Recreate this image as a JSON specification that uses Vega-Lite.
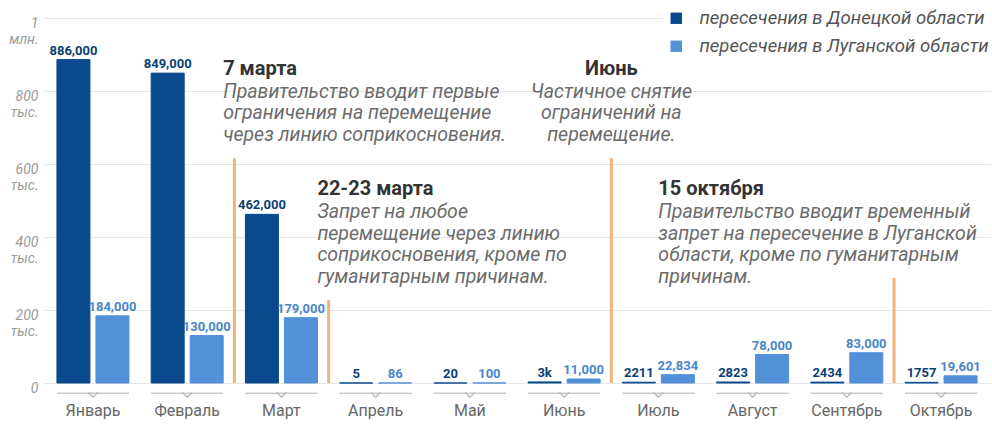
{
  "$schema": "https://vega.github.io/schema/vega-lite/v6.json",
  "width": 948,
  "height": 365,
  "autosize": {"type": "none"},
  "padding": {"left": 43, "top": 18, "right": 1, "bottom": 44},
  "background": "white",
  "config": {"view": {"stroke": null}, "font": "Roboto"},
  "datasets": {
    "crossings": [
      {"month": "Январь", "region": "пересечения в Донецкой области", "value": 886000, "label": "886,000"},
      {"month": "Февраль", "region": "пересечения в Донецкой области", "value": 849000, "label": "849,000"},
      {"month": "Март", "region": "пересечения в Донецкой области", "value": 462000, "label": "462,000"},
      {"month": "Апрель", "region": "пересечения в Донецкой области", "value": 5, "label": "5"},
      {"month": "Май", "region": "пересечения в Донецкой области", "value": 20, "label": "20"},
      {"month": "Июнь", "region": "пересечения в Донецкой области", "value": 3000, "label": "3k"},
      {"month": "Июль", "region": "пересечения в Донецкой области", "value": 2211, "label": "2211"},
      {"month": "Август", "region": "пересечения в Донецкой области", "value": 2823, "label": "2823"},
      {"month": "Сентябрь", "region": "пересечения в Донецкой области", "value": 2434, "label": "2434"},
      {"month": "Октябрь", "region": "пересечения в Донецкой области", "value": 1757, "label": "1757"},
      {"month": "Январь", "region": "пересечения в Луганской области", "value": 184000, "label": "184,000"},
      {"month": "Февраль", "region": "пересечения в Луганской области", "value": 130000, "label": "130,000"},
      {"month": "Март", "region": "пересечения в Луганской области", "value": 179000, "label": "179,000"},
      {"month": "Апрель", "region": "пересечения в Луганской области", "value": 86, "label": "86"},
      {"month": "Май", "region": "пересечения в Луганской области", "value": 100, "label": "100"},
      {"month": "Июнь", "region": "пересечения в Луганской области", "value": 11000, "label": "11,000"},
      {"month": "Июль", "region": "пересечения в Луганской области", "value": 22834, "label": "22,834"},
      {"month": "Август", "region": "пересечения в Луганской области", "value": 78000, "label": "78,000"},
      {"month": "Сентябрь", "region": "пересечения в Луганской области", "value": 83000, "label": "83,000"},
      {"month": "Октябрь", "region": "пересечения в Луганской области", "value": 19601, "label": "19,601"}
    ],
    "notes": [
      {"id": 1, "month": "Февраль", "ruleMonth": "Март", "ruleTop": 616000, "title": "7 марта", "body": ["Правительство вводит первые", "ограничения на перемещение", "через линию соприкосновения."]},
      {"id": 2, "month": "Март", "ruleMonth": "Апрель", "ruleTop": 227000, "title": "22-23 марта", "body": ["Запрет на любое", "перемещение через линию", "соприкосновения, кроме по", "гуманитарным причинам."]},
      {"id": 3, "month": "Июль", "ruleMonth": "Июль", "ruleTop": 616000, "title": "Июнь", "body": ["Частичное снятие", "ограничений на", "перемещение."]},
      {"id": 4, "month": "Июль", "ruleMonth": "Октябрь", "ruleTop": 288000, "title": "15 октября", "body": ["Правительство вводит временный", "запрет на пересечение в Луганской", "области, кроме по гуманитарным", "причинам."]}
    ]
  },
  "layer": [
    {
      "data": {"name": "crossings"},
      "mark": {"type": "bar", "strokeWidth": 1},
      "encoding": {
        "x": {
          "field": "month", "type": "nominal",
          "scale": {"domain": ["Январь", "Февраль", "Март", "Апрель", "Май", "Июнь", "Июль", "Август", "Сентябрь", "Октябрь"], "paddingInner": 0.236, "paddingOuter": 0.148},
          "axis": {"title": null, "domain": false, "ticks": false, "labelPadding": 19, "labelFontSize": 16, "labelColor": "#666666", "labelFont": "Roboto", "labelAngle": 0}
        },
        "xOffset": {
          "field": "region", "type": "nominal",
          "scale": {"domain": ["пересечения в Донецкой области", "пересечения в Луганской области"], "paddingInner": 0.154, "paddingOuter": 0}
        },
        "y": {
          "field": "value", "type": "quantitative",
          "scale": {"domain": [0, 1000000], "nice": false},
          "axis": {
            "title": null, "domain": false, "ticks": false, "grid": true, "gridColor": "#e6e6e6",
            "values": [0, 200000, 400000, 600000, 800000, 1000000],
            "labelExpr": "datum.value == 0 ? ['0', ''] : datum.value == 1000000 ? ['1', 'млн.'] : [format(datum.value / 1000, 'd'), 'тыс.']",
            "labelFontSize": 14, "labelFontStyle": "italic", "labelColor": "#9a9a9a", "labelPadding": 5,
            "labelBaseline": "middle", "labelLineHeight": 16.5, "labelOffset": 5, "labelFont": "Roboto"
          }
        },
        "color": {
          "field": "region", "type": "nominal",
          "scale": {"domain": ["пересечения в Донецкой области", "пересечения в Луганской области"], "range": ["#0a4a8c", "#5290d8"]},
          "legend": {
            "title": null, "orient": "none", "legendX": 620, "legendY": -13, "direction": "vertical",
            "symbolType": "square", "symbolSize": 130, "symbolStrokeWidth": 0,
            "labelFontSize": 18.5, "labelFont": "Roboto", "labelFontStyle": "italic", "labelColor": "#555555",
            "labelOffset": 14, "rowPadding": 9, "fillColor": "white", "padding": 4, "labelLimit": 400
          }
        },
        "stroke": {
          "field": "region", "type": "nominal",
          "scale": {"domain": ["пересечения в Донецкой области", "пересечения в Луганской области"], "range": ["#0a4a8c", "#5290d8"]},
          "legend": null
        }
      }
    },
    {
      "data": {"name": "crossings"},
      "mark": {"type": "text", "baseline": "alphabetic", "dy": -5, "fontWeight": "bold", "fontSize": 13, "font": "Roboto"},
      "encoding": {
        "x": {"field": "month", "type": "nominal"},
        "xOffset": {"field": "region", "type": "nominal"},
        "y": {"field": "value", "type": "quantitative"},
        "text": {"field": "label"},
        "fill": {
          "field": "region", "type": "nominal",
          "scale": {"domain": ["пересечения в Донецкой области", "пересечения в Луганской области"], "range": ["#0c3f75", "#4a86c8"]},
          "legend": null
        }
      }
    },
    {
      "data": {"name": "crossings"},
      "mark": {"type": "bar", "color": "#c8c8c8"},
      "encoding": {
        "x": {"field": "month", "type": "nominal"},
        "y": {"datum": -27000},
        "y2": {"datum": -29800}
      }
    },
    {
      "data": {"name": "crossings"},
      "mark": {"type": "point", "shape": "M-1,-0.2L0,0.8L1,-0.2", "size": 90, "filled": false, "stroke": "#bdbdbd", "strokeWidth": 1.2, "opacity": 1},
      "encoding": {
        "x": {"field": "month", "type": "nominal"},
        "y": {"datum": -28400}
      }
    },
    {
      "data": {"name": "notes"},
      "mark": {"type": "rule", "color": "#f2b47c", "strokeWidth": 3},
      "encoding": {
        "x": {"field": "ruleMonth", "type": "nominal", "bandPosition": -0.153},
        "y": {"field": "ruleTop", "type": "quantitative"},
        "y2": {"datum": 0}
      }
    },
    {
      "data": {"name": "notes"},
      "transform": [{"filter": "datum.id == 1 || datum.id == 2"}],
      "layer": [
        {
          "transform": [{"filter": "datum.id == 1"}],
          "mark": {"type": "text", "align": "left", "baseline": "alphabetic", "fontWeight": "bold", "fontSize": 20, "color": "#333333", "font": "Roboto"},
          "encoding": {
            "x": {"field": "month", "type": "nominal", "bandPosition": 1},
            "y": {"datum": 845000},
            "text": {"field": "title"}
          }
        },
        {
          "transform": [{"filter": "datum.id == 1"}],
          "mark": {"type": "text", "align": "left", "baseline": "alphabetic", "dy": 23, "fontStyle": "italic", "fontSize": 19.5, "lineHeight": 21.7, "color": "#6b6b6b", "font": "Roboto"},
          "encoding": {
            "x": {"field": "month", "type": "nominal", "bandPosition": 1},
            "y": {"datum": 845000},
            "text": {"field": "body"}
          }
        },
        {
          "transform": [{"filter": "datum.id == 2"}],
          "mark": {"type": "text", "align": "left", "baseline": "alphabetic", "fontWeight": "bold", "fontSize": 20, "color": "#333333", "font": "Roboto"},
          "encoding": {
            "x": {"field": "month", "type": "nominal", "bandPosition": 1},
            "y": {"datum": 515000},
            "text": {"field": "title"}
          }
        },
        {
          "transform": [{"filter": "datum.id == 2"}],
          "mark": {"type": "text", "align": "left", "baseline": "alphabetic", "dy": 23, "fontStyle": "italic", "fontSize": 19.5, "lineHeight": 21.7, "color": "#6b6b6b", "font": "Roboto"},
          "encoding": {
            "x": {"field": "month", "type": "nominal", "bandPosition": 1},
            "y": {"datum": 515000},
            "text": {"field": "body"}
          }
        }
      ]
    },
    {
      "data": {"name": "notes"},
      "transform": [{"filter": "datum.id == 3"}],
      "layer": [
        {
          "mark": {"type": "text", "align": "center", "baseline": "alphabetic", "fontWeight": "bold", "fontSize": 20, "color": "#333333", "font": "Roboto"},
          "encoding": {
            "x": {"field": "month", "type": "nominal", "bandPosition": -0.153},
            "y": {"datum": 845000},
            "text": {"field": "title"}
          }
        },
        {
          "mark": {"type": "text", "align": "center", "baseline": "alphabetic", "dy": 23, "fontStyle": "italic", "fontSize": 19.5, "lineHeight": 21.7, "color": "#6b6b6b", "font": "Roboto"},
          "encoding": {
            "x": {"field": "month", "type": "nominal", "bandPosition": -0.153},
            "y": {"datum": 845000},
            "text": {"field": "body"}
          }
        }
      ]
    },
    {
      "data": {"name": "notes"},
      "transform": [{"filter": "datum.id == 4"}],
      "layer": [
        {
          "mark": {"type": "text", "align": "left", "baseline": "alphabetic", "fontWeight": "bold", "fontSize": 20, "color": "#333333", "font": "Roboto"},
          "encoding": {
            "x": {"field": "month", "type": "nominal", "bandPosition": 0.5},
            "y": {"datum": 515000},
            "text": {"field": "title"}
          }
        },
        {
          "mark": {"type": "text", "align": "left", "baseline": "alphabetic", "dy": 23, "fontStyle": "italic", "fontSize": 19.5, "lineHeight": 21.7, "color": "#6b6b6b", "font": "Roboto"},
          "encoding": {
            "x": {"field": "month", "type": "nominal", "bandPosition": 0.5},
            "y": {"datum": 515000},
            "text": {"field": "body"}
          }
        }
      ]
    }
  ]
}
